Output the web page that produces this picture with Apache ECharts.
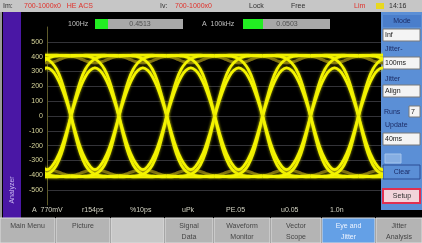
<!DOCTYPE html>
<html>
<head>
<meta charset="utf-8">
<script src="https://cdn.jsdelivr.net/npm/echarts@6/dist/echarts.min.js"></script>
<style>
  html, body { margin: 0; padding: 0; background: #000; }
  #chart { width: 422px; height: 243px; }
</style>
</head>
<body>
<div id="chart"></div>
<script>
// eye diagram data (x in unit intervals, y in mV)
var crossings = [-0.5, 0.5, 1.5, 2.5, 3.5, 4.5, 5.5, 6.5];
var tSteps = [0, 0.1, 0.2, 0.3, 0.4, 0.5, 0.6, 0.7, 0.8, 0.9, 1.0];
// one bit period each, between two crossings
var highRail  = [402, 406, 408, 410, 410, 410, 410, 410, 408, 406, 402];
var riseHold  = [0, 130, 240, 315, 360, 385, 398, 404, 407, 408, 408];
var holdFall  = [408, 408, 407, 404, 398, 385, 360, 315, 240, 130, 0];
var pulseHigh = [0, 105, 195, 265, 308, 325, 308, 265, 195, 105, 0];
var lowRail   = [-402, -406, -408, -410, -410, -410, -410, -410, -408, -406, -402];
var fallHold  = [0, -140, -255, -330, -372, -392, -402, -406, -408, -410, -410];
var holdRise  = [-410, -410, -408, -406, -402, -392, -372, -330, -255, -140, 0];
var pulseLow  = [0, -115, -215, -290, -340, -362, -340, -290, -215, -115, 0];
// dim persistence bumps between the lower arcs and the rail
var lowBump   = [-405, -398, -385, -374, -368, -366, -368, -374, -385, -398, -405];
var highBump  = [405, 398, 386, 372, 362, 358, 362, 372, 386, 398, 405];
var yTicks = [500, 400, 300, 200, 100, 0, -100, -200, -300, -400, -500];

var shapes = [highRail, riseHold, holdFall, pulseHigh, lowRail, fallHold, holdRise, pulseLow];
var dimShapes = [lowBump, highBump];

var series = [];
function addShape(shape, style) {
  crossings.forEach(function (c) {
    series.push({
      type: 'line',
      smooth: 0.4,
      symbol: 'none',
      silent: true,
      lineStyle: style,
      data: tSteps.map(function (t, i) { return [c + t, shape[i]] })
    })
  })
}
dimShapes.forEach(function (s) {
  addShape(s, { color: '#7a6c12', width: 3 })
});
shapes.forEach(function (s) {
  addShape(s, { color: '#f4f400', width: 2.8, shadowColor: 'rgba(220,220,0,0.7)', shadowBlur: 3 })
});

var font = 'Liberation Sans';
function txt(x, y, s, color, size, align) {
  return { type: 'text', x: x, y: y, silent: true,
    style: { text: s, fill: color, font: (size || 7) + 'px "' + font + '"', textAlign: align || 'left', textVerticalAlign: 'middle' } };
}
function box(x, y, w, h, fill, stroke, lw) {
  return { type: 'rect', shape: { x: x, y: y, width: w, height: h }, silent: true,
    style: { fill: fill, stroke: stroke || null, lineWidth: lw || 1 } };
}

var graphics = [
  // top status bar
  box(0, 0, 422, 12, '#c6c6c6'),
  txt(3, 6, 'Im:', '#303030'),
  txt(24, 6, '700-1000x0   HE ACS', '#e0302a'),
  txt(160, 6, 'Iv:', '#303030'),
  txt(175, 6, '700-1000x0', '#e0302a'),
  txt(249, 6, 'Lock', '#303030'),
  txt(291, 6, 'Free', '#303030'),
  txt(354, 6, 'Lim', '#e0302a'),
  box(376, 3, 8, 6, '#e8d820'),
  txt(389, 6, '14:16', '#303030'),
  // left strip
  box(0, 12, 2, 206, '#9a9a9a'),
  box(3, 12, 18, 206, '#4a17a5'),
  { type: 'text', x: 12, y: 190, rotation: Math.PI / 2, silent: true,
    style: { text: 'Analyzer', fill: '#c8b8f0', font: '7px "' + font + '"', textAlign: 'center', textVerticalAlign: 'middle' } },
  // measurement bars
  txt(68, 24, '100Hz', '#c0c0c0'),
  box(95, 19, 88, 10, '#a8a8a8'),
  box(95, 19, 13, 10, '#22ee22'),
  txt(140, 24, '0.4513', '#505050', 7, 'center'),
  txt(202, 24, 'A  100kHz', '#c0c0c0'),
  box(243, 19, 87, 10, '#a8a8a8'),
  box(243, 19, 20, 10, '#22ee22'),
  txt(287, 24, '0.0503', '#505050', 7, 'center'),
  // bottom readouts
  txt(32, 210, 'A  770mV', '#d4d4c4'),
  txt(82, 210, 'r154ps', '#d4d4c4'),
  txt(130, 210, '%10ps', '#d4d4c4'),
  txt(182, 210, 'uPk', '#d4d4c4'),
  txt(226, 210, 'PE.05', '#d4d4c4'),
  txt(281, 210, 'u0.05', '#d4d4c4'),
  txt(330, 210, '1.0n', '#d4d4c4'),
  // right panel
  box(381, 12, 41, 198, '#5b8fd6'),
  box(383, 15, 38, 12, '#4a7ecb'),
  txt(402, 21, 'Mode', '#1c2c66', 7, 'center'),
  box(383, 29, 37, 12, '#f4f4f4', '#7a7a7a'),
  txt(385, 35, 'Inf', '#202020'),
  txt(385, 49, 'Jitter-', '#1c2c66'),
  box(383, 57, 37, 12, '#f4f4f4', '#7a7a7a'),
  txt(385, 63, '100ms', '#202020'),
  txt(385, 79, 'Jitter', '#1c2c66'),
  box(383, 85, 37, 12, '#f4f4f4', '#7a7a7a'),
  txt(385, 91, 'Align', '#202020'),
  txt(384, 112, 'Runs', '#1c2c66'),
  box(409, 106, 11, 11, '#f4f4f4', '#7a7a7a'),
  txt(411, 112, '7', '#202020'),
  txt(385, 125, 'Update', '#1c2c66'),
  box(383, 133, 37, 12, '#f4f4f4', '#7a7a7a'),
  txt(385, 139, '40ms', '#202020'),
  box(385, 154, 16, 9, '#86aee2', '#a4c4ec'),
  box(383, 165, 37, 14, '#5b8fd6', '#2c4c94'),
  txt(402, 172, 'Clear', '#1c2c66', 7, 'center'),
  box(383, 189, 37, 14, '#f2d4da', '#e03050', 2),
  txt(402, 196, 'Setup', '#303030', 7, 'center')
];

// bottom soft buttons
var buttons = [
  [0, 55, 'Main Menu'], [56, 54, 'Picture'], [111, 53, ''], [165, 48, 'Signal\nData'],
  [214, 56, 'Waveform\nMonitor'], [271, 50, 'Vector\nScope'], [322, 53, 'Eye and\nJitter'], [376, 46, 'Jitter\nAnalysis']
];
buttons.forEach(function (b) {
  var active = b[2] === 'Eye and\nJitter';
  var fill = active ? '#64a0e6' : (b[2] === '' ? '#c8c8c8' : '#b4b4b4');
  graphics.push(box(b[0], 218, b[1], 25, fill, '#dedede'));
  graphics.push({ type: 'text', x: b[0] + b[1] / 2, y: 221, silent: true,
    style: { text: b[2], fill: active ? '#eef4ff' : '#454545', font: '7px "' + font + '"',
      textAlign: 'center', textVerticalAlign: 'top', lineHeight: 11 } });
});

var chart = echarts.init(document.getElementById('chart'));
chart.setOption({
  backgroundColor: '#000',
  animation: false,
  grid: { left: 47, right: 41, top: 27, bottom: 38 },
  xAxis: { type: 'value', min: 0, max: 6.97, show: false },
  yAxis: {
    type: 'value', min: -600, max: 600, interval: 100,
    axisLine: { show: true, lineStyle: { color: '#5e5a2a' } },
    axisTick: { show: false },
    axisLabel: {
      color: '#d6d49a', fontSize: 7, fontFamily: font, margin: 4,
      formatter: function (v) { return yTicks.indexOf(v) >= 0 ? String(v) : '' }
    },
    splitLine: { show: true, showMinLine: false, showMaxLine: false, lineStyle: { color: '#333338', width: 1 } }
  },
  graphic: graphics,
  series: series
});
</script>
</body>
</html>
